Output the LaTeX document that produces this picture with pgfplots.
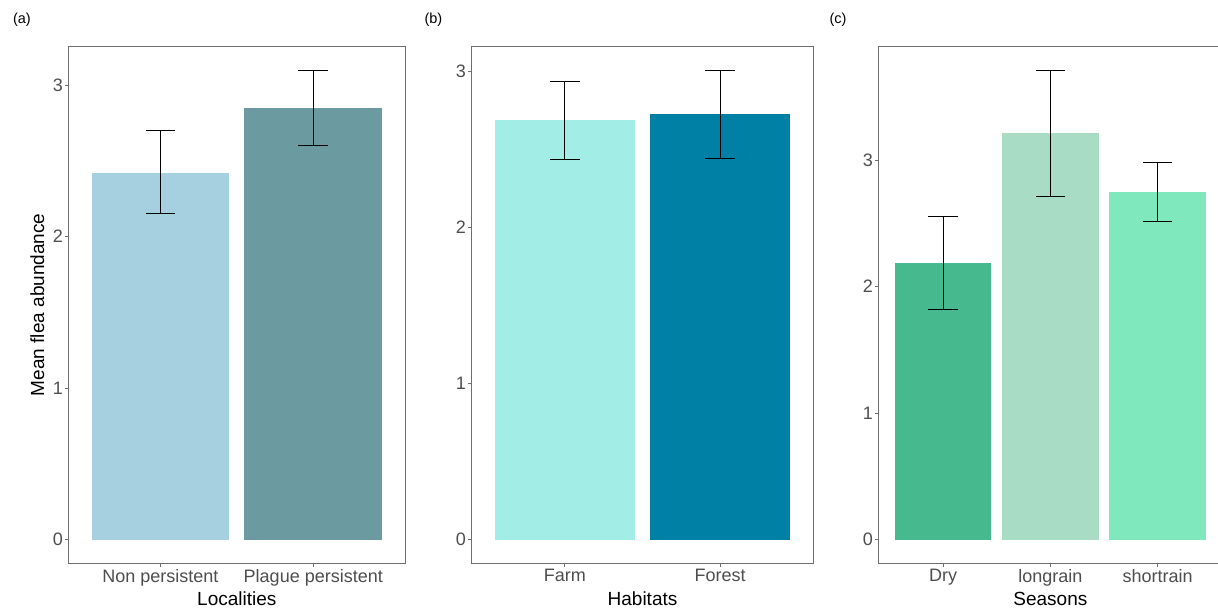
\documentclass[border=0pt]{standalone}
\usepackage{fontspec}
\setmainfont{Liberation Sans}
\usepackage{pgfplots}
\pgfplotsset{compat=1.18}
\definecolor{ca1}{HTML}{A6D0E0}
\definecolor{ca2}{HTML}{6C9AA1}
\definecolor{cb1}{HTML}{A2EEE6}
\definecolor{cb2}{HTML}{0080A5}
\definecolor{cc1}{HTML}{47B98F}
\definecolor{cc2}{HTML}{A8DCC5}
\definecolor{cc3}{HTML}{80E8BD}
\definecolor{tickgray}{HTML}{4D4D4D}
\definecolor{framegray}{HTML}{6E6E6E}
\pgfplotsset{
  panel/.style={
    scale only axis, anchor=south west, height=516.3pt,
    ybar, bar shift=0pt, bar width=0.9,
    axis line style={draw=framegray, line width=0.8pt},
    tick style={draw=framegray, line width=0.8pt},
    tick align=outside, major tick length=4pt,
    xtick pos=left, ytick pos=left,
    ticklabel style={font=\fontsize{18}{20}\selectfont, text=tickgray},
    yticklabel style={inner sep=1.5pt},
    xticklabel style={inner sep=2pt},
    /pgf/number format/assume math mode=true,
    label style={font=\fontsize{19}{21}\selectfont, text=black},
    xlabel style={at={(axis description cs:0.5,0)}, anchor=base, yshift=-42pt},
    error bars/y dir=both, error bars/y explicit,
    error bars/error mark=|,
    error bars/error bar style={black, line width=0.9pt},
    error bars/error mark options={black, mark size=14.8pt, line width=0.9pt},
  },
  barstyle/.style={fill=#1, draw=none},
}
\begin{document}
\begin{tikzpicture}[x=1pt,y=1pt]
\useasboundingbox (0,0) rectangle (1218,611);
% panel (a)
\begin{axis}[panel, at={(68.7pt,48pt)}, width=336.3pt,
  xmin=0.4, xmax=2.6, ymin=-0.155, ymax=3.254,
  xtick={1,2}, xticklabels={Non persistent, Plague persistent},
  ytick={0,1,2,3},
  xlabel={Localities}, ylabel={Mean flea abundance},
  ylabel style={at={(axis description cs:-0.0734,0.5)}, anchor=base}]
\addplot[barstyle=ca1] coordinates {(1,2.42) += (0,0.28) -= (0,0.27)};
\addplot[barstyle=ca2] coordinates {(2,2.85) += (0,0.25) -= (0,0.245)};
\end{axis}
\node[anchor=base west, font=\fontsize{14.5}{16}\selectfont] at (9.5,587.3) {(a)};
% panel (b)
\begin{axis}[panel, at={(471.7pt,48pt)}, width=341.6pt,
  xmin=0.4, xmax=2.6, ymin=-0.150, ymax=3.157,
  xtick={1,2}, xticklabels={Farm, Forest},
  ytick={0,1,2,3},
  xlabel={Habitats}]
\addplot[barstyle=cb1] coordinates {(1,2.685) += (0,0.252) -= (0,0.247)};
\addplot[barstyle=cb2] coordinates {(2,2.725) += (0,0.282) -= (0,0.281)};
\end{axis}
\node[anchor=base west, font=\fontsize{14.5}{16}\selectfont] at (421,587.3) {(b)};
% panel (c)
\begin{axis}[panel, at={(878.7pt,48pt)}, width=343.3pt,
  xmin=0.4, xmax=3.6, ymin=-0.1855, ymax=3.8955,
  xtick={1,2,3}, xticklabels={Dry, longrain, shortrain},
  ytick={0,1,2,3},
  xlabel={Seasons}]
\addplot[barstyle=cc1] coordinates {(1,2.186) += (0,0.371) -= (0,0.371)};
\addplot[barstyle=cc2] coordinates {(2,3.21) += (0,0.50) -= (0,0.495)};
\addplot[barstyle=cc3] coordinates {(3,2.747) += (0,0.236) -= (0,0.229)};
\end{axis}
\node[anchor=base west, font=\fontsize{14.5}{16}\selectfont] at (826,587.3) {(c)};
\end{tikzpicture}
\end{document}
